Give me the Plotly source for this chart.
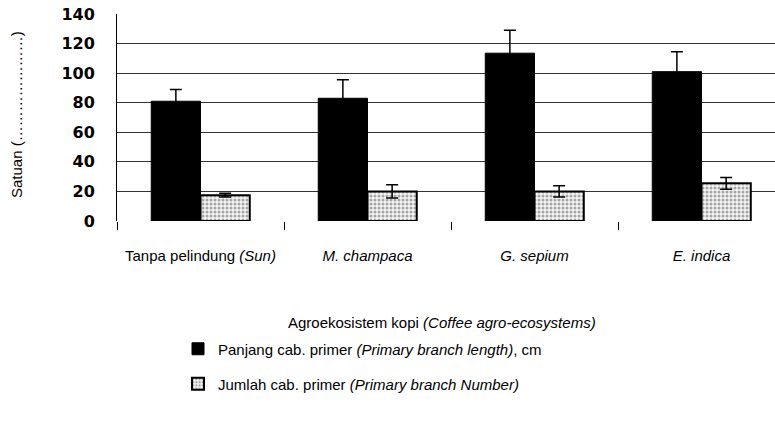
import plotly.graph_objects as go

categories = ["Tanpa pelindung <i>(Sun)</i>", "<i>M. champaca</i>", "<i>G. sepium</i>", "<i>E. indica</i>"]
length_vals = [81, 83, 113.5, 101]
length_err = [8, 12.5, 15.5, 13.5]
number_vals = [17.5, 20, 20, 25.5]
number_err = [1.2, 4.5, 3.8, 4]
y_ticks = [0, 20, 40, 60, 80, 100, 120, 140]

W, H = 775, 431
L, T = 117, 14
plot_w = W - L
plot_h = 207
B = H - T - plot_h

def px(x):
    return (x - L) / plot_w

def py(y):
    return (T + plot_h - y) / plot_h

fig = go.Figure()
fig.add_trace(go.Bar(
    x=categories, y=length_vals, name="Panjang cab. primer <i>(Primary branch length)</i>, cm",
    marker=dict(color="black", line=dict(color="black", width=1)),
    error_y=dict(type="data", array=length_err, color="black", thickness=1.5, width=6),
    legend="legend",
))
fig.add_trace(go.Bar(
    x=categories, y=number_vals, name="Jumlah cab. primer <i>(Primary branch Number)</i>",
    marker=dict(color="white", line=dict(color="black", width=2),
                pattern=dict(shape=".", fgcolor="#555555", bgcolor="#f4f4f4", size=4, solidity=0.45)),
    error_y=dict(type="data", array=number_err, color="black", thickness=1.5, width=6),
    legend="legend2",
))

font_txt = "Liberation Sans, Arial"
FS = 15

fig.update_layout(
    width=W, height=H,
    margin=dict(l=L, r=0, t=T, b=B),
    plot_bgcolor="white", paper_bgcolor="white",
    barmode="group", bargap=0.41, bargroupgap=0,
    showlegend=True,
    font=dict(family=font_txt, size=FS, color="black"),
    xaxis=dict(
        range=[-0.5, 3.44], type="category",
        showgrid=False, showline=False, zeroline=False,
        ticks="outside", tickson="boundaries", ticklen=8, tickcolor="black", tickwidth=1,
        tickfont=dict(family=font_txt, size=FS, color="black"),
        ticklabelstandoff=24,
    ),
    yaxis=dict(
        range=[0, 140], tickvals=y_ticks,
        showgrid=True, gridcolor="#333333", gridwidth=1,
        showline=True, linecolor="black", linewidth=1,
        zeroline=False, ticks="",
        tickfont=dict(family="DejaVu Sans", size=16, color="black", weight="bold"),
        ticklabelstandoff=18,
    ),
    legend=dict(x=px(178), y=py(349), xanchor="left", yanchor="middle",
                bgcolor="rgba(0,0,0,0)", font=dict(family=font_txt, size=FS)),
    legend2=dict(x=px(178), y=py(384), xanchor="left", yanchor="middle",
                 bgcolor="rgba(0,0,0,0)", font=dict(family=font_txt, size=FS)),
    annotations=[
        dict(text="Satuan (…………………)", x=px(17), y=py(115), xref="paper", yref="paper",
             textangle=-90, showarrow=False, xanchor="center", yanchor="middle",
             font=dict(family=font_txt, size=FS)),
        dict(text="Agroekosistem kopi <i>(Coffee agro-ecosystems)</i>", x=px(442), y=py(322),
             xref="paper", yref="paper", showarrow=False, xanchor="center", yanchor="middle",
             font=dict(family=font_txt, size=FS)),
    ],
)

fig.write_html("out.html", config={"displayModeBar": False},
               post_script="document.body.style.margin='0';")
